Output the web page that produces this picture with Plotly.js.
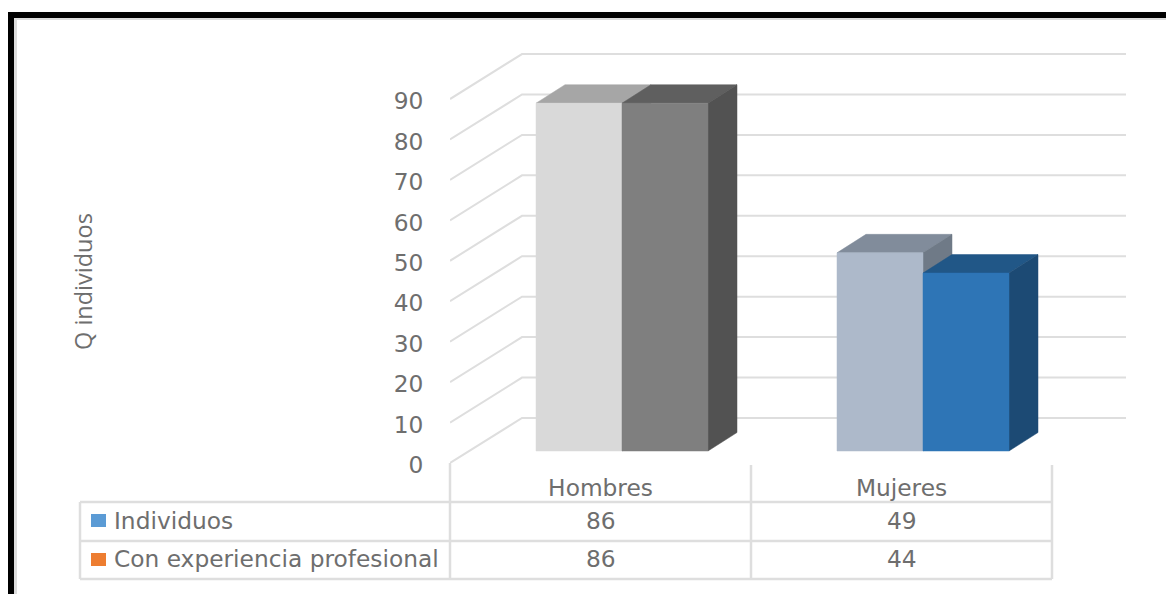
<!DOCTYPE html>
<html>
<head>
<meta charset="utf-8">
<script src="https://cdn.plot.ly/plotly-3.0.1.min.js"></script>
<style>html,body{margin:0;padding:0;background:#fff}#chart{width:1166px;height:594px}</style>
</head>
<body>
<div id="chart"></div>
<script>
// Data
const categories = ['Hombres', 'Mujeres'];
const seriesNames = ['Individuos', 'Con experiencia profesional'];
const individuos = [86, 49];
const conExperiencia = [86, 44];
const yTicks = [0, 10, 20, 30, 40, 50, 60, 70, 80, 90];
const yTitle = 'Q individuos';

// Face colours: one front / top / side triple per bar
const faceColors = [
  [{front:'#d9d9d9', top:'#a6a6a6', side:'#8c8c8c'}, {front:'#adb9ca', top:'#818c9b', side:'#6f7a87'}],
  [{front:'#7f7f7f', top:'#5f5f5f', side:'#525252'}, {front:'#2e75b6', top:'#215787', side:'#1c4a74'}]
];
const swatchColors = ['#5b9bd5', '#ed7d31'];

// Plot frame in page pixels
const W = 1166, H = 594;
const left = 450, right = 1126, top_ = 40, bottom = 463;
const catW = 301, unitH = 4.044;
const xMax = (right - left) / catW;
const yMax = (bottom - top_) / unitH;
const px = p => (p - left) / (right - left);
const py = p => (bottom - p) / (bottom - top_);

// Oblique projection of the depth axis
const wallDx = 72 / catW, wallDy = 45 / unitH;
const barFrontDx = 21.5 / catW, barFrontDy = 12 / unitH;
const barDepthDx = 29 / catW, barDepthDy = 18.5 / unitH;
const barW = 86 / catW;

const GRID = '#dedede', TEXT = '#6e6e6e', FONT = 'DejaVu Sans', SIZE = 23.3;

// Side wall and back wall grid lines
const gx = [], gy = [];
yTicks.forEach(v => {
  gx.push(0, wallDx, xMax, null);
  gy.push(v, v + wallDy, v + wallDy, null);
});
const traces = [{
  type: 'scatter', mode: 'lines', x: gx, y: gy, cliponaxis: false,
  line: {color: GRID, width: 2}, hoverinfo: 'skip', showlegend: false
}];

function face(xs, ys, color) {
  traces.push({
    type: 'scatter', mode: 'lines', x: xs.concat(xs[0]), y: ys.concat(ys[0]),
    fill: 'toself', fillcolor: color, line: {color: color, width: 0.5},
    cliponaxis: false, hoverinfo: 'skip', showlegend: false
  });
}

// Each cuboid: top, right side, then front
[individuos, conExperiencia].forEach((vals, s) => {
  vals.forEach((v, c) => {
    const x0 = c + 0.5 + barFrontDx - barW + s * barW;
    const x1 = x0 + barW;
    const y0 = barFrontDy, y1 = barFrontDy + v;
    const col = faceColors[s][c];
    face([x0, x1, x1 + barDepthDx, x0 + barDepthDx],
         [y1, y1, y1 + barDepthDy, y1 + barDepthDy], col.top);
    face([x1, x1 + barDepthDx, x1 + barDepthDx, x1],
         [y0, y0 + barDepthDy, y1 + barDepthDy, y1], col.side);
    face([x0, x1, x1, x0], [y0, y0, y1, y1], col.front);
  });
});

// Data table grid and page frame
const vline = (x, y0, y1) => ({type:'line', xref:'paper', yref:'paper', x0:px(x), x1:px(x), y0:py(y0), y1:py(y1),
  line:{color:GRID, width:2.5}, layer:'below'});
const hline = (y) => ({type:'line', xref:'paper', yref:'paper', x0:px(80), x1:px(1052), y0:py(y), y1:py(y),
  line:{color:GRID, width:2.5}, layer:'below'});
const block = (x0, y0, x1, y1, color) => ({type:'rect', xref:'paper', yref:'paper', x0:px(x0), x1:px(x1), y0:py(y0), y1:py(y1),
  fillcolor:color, line:{width:0}, layer:'below'});

const shapes = [
  block(14, 18, W, 20, '#dcdcdc'),
  block(14, 18, 17, H, '#dcdcdc'),
  block(8, 12, W, 18, '#000000'),
  block(8, 12, 14, H, '#000000'),
  vline(450, 463, 579), vline(751, 465, 579), vline(1052, 465, 579), vline(80, 502, 579),
  hline(502), hline(541), hline(579),
  block(91, 514, 106, 527, swatchColors[0]),
  block(91, 553, 106, 566, swatchColors[1])
];

const label = (x, y, text, anchor) => ({
  xref:'paper', yref:'paper', x:px(x), y:py(y), text:text, showarrow:false, xanchor:anchor, yanchor:'middle',
  font:{family:FONT, size:SIZE, color:TEXT}
});
const annotations = [
  label(112, 520, seriesNames[0], 'left'),
  label(112, 558, seriesNames[1], 'left'),
  {xref:'paper', yref:'paper', x:px(83), y:py(281), text:yTitle, textangle:-90, showarrow:false,
   xanchor:'center', yanchor:'middle', font:{family:'Open Sans', size:23.5, color:TEXT}}
];
[individuos, conExperiencia].forEach((vals, s) => {
  vals.forEach((v, c) => annotations.push(label(left + (c + 0.5) * catW, s ? 558 : 520, String(v), 'center')));
});

const layout = {
  width: W, height: H,
  margin: {l:left, r:W-right, t:top_, b:H-bottom, pad:0},
  paper_bgcolor:'#ffffff', plot_bgcolor:'rgba(0,0,0,0)',
  showlegend:false,
  shapes, annotations,
  xaxis: {
    range:[0, xMax], tickmode:'array', tickvals:[0.5, 1.5], ticktext:categories,
    showgrid:false, zeroline:false, showline:false, ticks:'outside', ticklen:4, tickcolor:'rgba(0,0,0,0)',
    tickfont:{family:FONT, size:SIZE, color:TEXT}, fixedrange:true
  },
  yaxis: {
    range:[0, yMax], tickmode:'array', tickvals:yTicks, ticktext:yTicks.map(String),
    showgrid:false, zeroline:false, showline:false, ticks:'outside', ticklen:21, tickcolor:'rgba(0,0,0,0)',
    ticklabelshift:2,
    tickfont:{family:FONT, size:SIZE, color:TEXT}, fixedrange:true
  }
};

Plotly.newPlot('chart', traces, layout, {displayModeBar:false, staticPlot:true});
</script>
</body>
</html>
